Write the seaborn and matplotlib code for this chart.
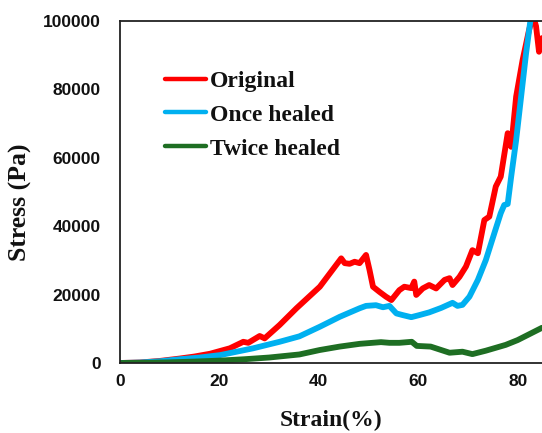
import matplotlib
matplotlib.use("Agg")
import matplotlib.pyplot as plt
import seaborn as sns
import pandas as pd

# Stress-strain curves (strain in %, stress in Pa)
original_strain = [0, 4, 8, 12, 15, 18.1, 22.1, 24.8, 25.8, 28.1, 29.1, 32.1, 35.5, 40.2, 44.5, 45.2,
                   46.2, 47.2, 48.2, 49.5, 50.2, 50.9, 52.2, 53.5, 54.6, 56.2, 57.2, 58.6,
                   59.2, 59.6, 60.9, 62.2, 63.6, 65.3, 66.3, 66.9, 68.3, 69.6, 70.9, 72.0,
                   73.3, 74.3, 75.6, 76.6, 78.0, 78.7, 79.7, 81.0, 82.3, 83.1, 83.7, 84.3, 84.9]
original_stress = [0, 150, 600, 1300, 1900, 2700, 4300, 6200, 5900, 7900, 7200, 11100, 16000, 22300, 30600, 29200,
                   29000, 29600, 29200, 31600, 27200, 22300, 20800, 19400, 18400, 21300, 22300, 21900,
                   23800, 19900, 21800, 22800, 21800, 24300, 24800, 22800, 25200, 28200, 33000, 32100,
                   41800, 42800, 51600, 54500, 67200, 63200, 77900, 88600, 97400, 101500, 98500, 91000, 95000]

once_strain = [0, 4, 8, 12, 16, 20.1, 26.8, 32.1, 36.1, 40.2, 44.2, 48.2, 49.5, 51.5, 52.9, 54.2,
               55.6, 56.9, 58.6, 60.2, 62.2, 64.6, 66.9, 67.9, 68.9, 70.3, 72.0, 73.6,
               75.3, 76.6, 77.3, 78.0, 78.7, 79.7, 80.7, 81.7, 82.6, 83.2]
once_stress = [0, 130, 500, 1100, 1600, 2300, 4300, 6200, 7800, 10600, 13500, 16000, 16700, 16900, 16300, 16700,
               14500, 14000, 13400, 14000, 14800, 16100, 17600, 16700, 17000, 19400, 24300, 30100,
               37900, 43800, 46200, 46500, 54500, 65200, 77900, 90600, 100500, 106000]

twice_strain = [0, 5, 10, 15, 20.1, 25, 30, 36.1, 40.2, 44.2, 48.2, 52.5, 54.2, 56.2, 58.7, 59.7, 62.5,
                66.3, 68.9, 70.9, 73.6, 77.6, 80.0, 84.9]
twice_stress = [0, 50, 200, 420, 700, 1100, 1600, 2500, 3800, 4800, 5600, 6100, 5900, 5900, 6200, 5000, 4800,
                3000, 3300, 2600, 3600, 5300, 6700, 10300]

series_names = ["Original", "Once healed", "Twice healed"]
series_colors = ["#FF0000", "#00B0F0", "#1E6E23"]

x_ticks = [0, 20, 40, 60, 80]
y_ticks = [0, 20000, 40000, 60000, 80000, 100000]

frames = []
for name, xs, ys in zip(series_names,
                        [original_strain, once_strain, twice_strain],
                        [original_stress, once_stress, twice_stress]):
    frames.append(pd.DataFrame({"strain": xs, "stress": ys, "sample": name}))
df = pd.concat(frames, ignore_index=True)

sns.set_theme(style="white")

W, H = 542, 433
fig = plt.figure(figsize=(W / 100, H / 100), dpi=100)
ax = fig.add_axes([120 / W, (H - 363) / H, (W - 120) / W, (363 - 21) / H])

sns.lineplot(data=df, x="strain", y="stress", hue="sample", hue_order=series_names,
             palette=series_colors, estimator=None, sort=False, linewidth=4.2,
             ax=ax, legend=False)

ax.set_xlim(0, 84.9)
ax.set_ylim(0, 100000)
ax.set_xticks(x_ticks)
ax.set_yticks(y_ticks)
ax.set_xticklabels([str(v) for v in x_ticks])
ax.set_yticklabels([str(v) for v in y_ticks])

for lab in ax.get_xticklabels() + ax.get_yticklabels():
    lab.set_fontfamily("Liberation Sans")
    lab.set_fontweight("bold")
    lab.set_fontsize(12.5)
    lab.set_color("#111111")
ax.tick_params(axis="both", length=0)
ax.tick_params(axis="y", pad=14)
ax.tick_params(axis="x", pad=8)

ax.set_xlabel("Strain(%)", fontfamily="Liberation Serif", fontweight="bold",
              fontsize=17, color="#111111", labelpad=15)
ax.set_ylabel("Stress (Pa)", fontfamily="Liberation Serif", fontweight="bold",
              fontsize=18.5, color="#111111")
ax.yaxis.set_label_coords(-88 / (W - 120), 0.47)

for side in ["left", "bottom", "top"]:
    ax.spines[side].set_visible(True)
    ax.spines[side].set_color("#222222")
    ax.spines[side].set_linewidth(1.3)
ax.spines["right"].set_visible(False)
ax.grid(False)

handles = [plt.Line2D([], [], color=c, linewidth=3.2, solid_capstyle="round") for c in series_colors]
leg = fig.legend(handles, series_names, loc="center left",
                 bbox_to_anchor=(165 / W, 1 - 115 / H), frameon=False,
                 borderpad=0, borderaxespad=0, handlelength=1.75, handletextpad=0.15,
                 labelspacing=0.52,
                 prop={"family": "Liberation Serif", "weight": "bold", "size": 17})
for t in leg.get_texts():
    t.set_color("#111111")

fig.savefig("out.png", dpi=100)
